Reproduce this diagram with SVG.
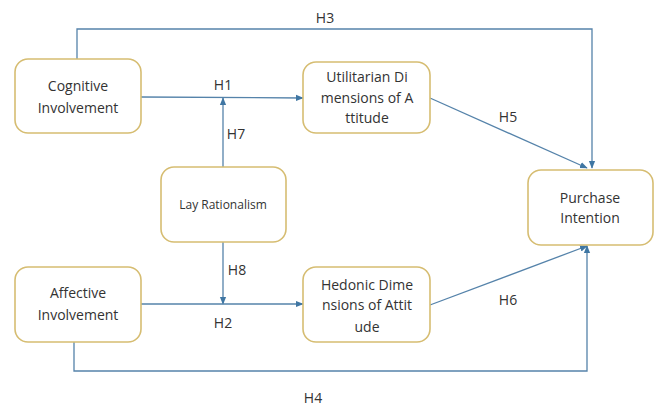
<svg xmlns="http://www.w3.org/2000/svg" width="654" height="408" viewBox="0 0 654 408">
<defs>
<style>
.box{fill:#fff;stroke:#d6bd72;stroke-width:1.6}
.t{font-family:"Open Sans","Liberation Sans",sans-serif;font-size:14px;fill:#333;text-anchor:middle}
.s{font-size:12px}
.c{fill:none;stroke:#5583aa;stroke-width:1.3}
</style>
<marker id="a" viewBox="0 0 10 10" refX="9" refY="5" markerWidth="6" markerHeight="6" orient="auto-start-reverse">
<path d="M0,1 L10,5 L0,9 z" fill="#3f76a3"/>
</marker>
</defs>
<rect width="654" height="408" fill="#fff"/>
<g id="connectors">
<path class="c" d="M77,59 V29 H592 V168" marker-end="url(#a)"/>
<path class="c" d="M141,97 L303,98" marker-end="url(#a)"/>
<path class="c" d="M223,167 V98" marker-end="url(#a)"/>
<path class="c" d="M223,242 V304" marker-end="url(#a)"/>
<path class="c" d="M141,304 H303" marker-end="url(#a)"/>
<path class="c" d="M74,342 V371 H587 V246" marker-end="url(#a)"/>
<path class="c" d="M430,98 L587,168" marker-end="url(#a)"/>
<path class="c" d="M430,305 L587,246" marker-end="url(#a)"/>
<text class="t" x="325" y="23">H3</text>
<text class="t" x="223" y="90">H1</text>
<text class="t" x="236" y="139">H7</text>
<text class="t" x="508" y="122">H5</text>
<text class="t" x="237" y="275">H8</text>
<text class="t" x="223" y="328">H2</text>
<text class="t" x="508" y="305">H6</text>
<text class="t" x="313" y="403">H4</text>
</g>
<g id="cognitive">
<rect class="box" x="15" y="59" width="126" height="74" rx="13"/>
<text class="t" x="78" y="91">Cognitive</text>
<text class="t" x="78" y="113">Involvement</text>
</g>
<g id="lay">
<rect class="box" x="161" y="167" width="125" height="75" rx="13"/>
<text class="t s" x="223" y="209">Lay Rationalism</text>
</g>
<g id="affective">
<rect class="box" x="15" y="267" width="126" height="75" rx="13"/>
<text class="t" x="78" y="298">Affective</text>
<text class="t" x="78" y="320">Involvement</text>
</g>
<g id="utilitarian">
<rect class="box" x="303" y="62" width="127" height="71" rx="13"/>
<text class="t" x="367" y="82">Utilitarian Di</text>
<text class="t" x="367" y="103">mensions of A</text>
<text class="t" x="367" y="123">ttitude</text>
</g>
<g id="hedonic">
<rect class="box" x="303" y="267" width="127" height="75" rx="13"/>
<text class="t" x="367" y="290">Hedonic Dime</text>
<text class="t" x="367" y="310">nsions of Attit</text>
<text class="t" x="367" y="332">ude</text>
</g>
<g id="purchase">
<rect class="box" x="528" y="170" width="125" height="75" rx="13"/>
<text class="t" x="590" y="203">Purchase</text>
<text class="t" x="590" y="223">Intention</text>
</g>
</svg>
